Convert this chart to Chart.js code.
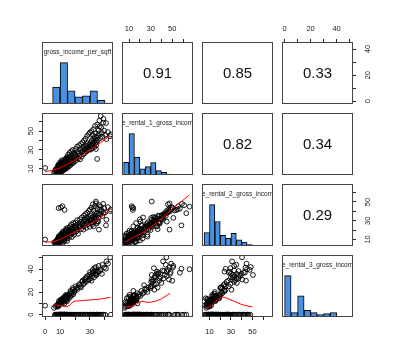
<!DOCTYPE html>
<html>
<head>
<meta charset="utf-8">
<script src="https://cdn.jsdelivr.net/npm/chart.js@4.4.1/dist/chart.umd.min.js"></script>
<style>
  html, body { margin: 0; background: #fff; }
  #wrap { position: relative; width: 396px; height: 360px; overflow: hidden; }
  #wrap canvas { position: absolute; }
</style>
</head>
<body>
<div id="wrap"></div>
<script>
// variable names as printed on the diagonal (clipped by the panel in the original)
const varNames = ['gross_income_per_sqft', 'e_rental_1_gross_incom', 'e_rental_2_gross_incom', 'e_rental_3_gross_incom'];

const incomePerSqft = [
  6.5, 7.0, 7.5, 8.0, 8.0, 8.5, 8.5, 9.0, 9.0, 9.0, 9.5, 9.5, 9.5, 9.8, 6.0, 7.0, 8.2, 9.7,
  10.0, 10.2, 10.4, 10.5, 10.6, 10.8, 11.0, 11.0, 11.2, 11.4, 11.5, 11.6, 11.8, 12.0, 12.0, 12.2, 12.4, 12.5, 12.6, 12.8, 13.0, 13.0,
  13.2, 13.4, 13.5, 13.6, 13.8, 14.0, 14.0, 14.2, 14.4, 14.5, 14.6, 14.8, 14.9, 10.3, 12.3, 13.7, 10.5, 11.5, 9.0, 13.0, 11.3,
  15.2, 15.5, 15.8, 16.0, 16.3, 16.6, 17.0, 17.2, 17.5, 17.8, 18.2, 18.5, 18.8, 19.3, 19.7,
  20.5, 21.0, 21.8, 22.5, 23.0, 23.6, 24.2, 24.8, 25.3, 25.8, 26.3, 26.8, 27.3, 27.8, 28.4, 29.0, 29.6,
  30.2, 30.5, 30.8, 31.2, 31.5, 31.8, 32.2, 32.5, 32.8, 33.2, 33.5, 33.8, 34.2, 34.5, 34.8,
  35.5, 36.5, 37.2, 38.0, 39.0, 40.7, 41.0, 43.5, 0.0, 36.0, 34.0,
  8.5, 9.2, 9.8, 10.1, 10.7, 11.1, 11.7, 12.1, 12.7, 13.1, 13.9, 14.3, 14.7, 10.9, 12.9, 11.9, 9.3, 13.3, 14.1, 12.6,
  15.4, 15.9, 16.4, 16.9, 17.4, 17.9, 18.4, 18.9, 19.4, 19.9,
  20.3, 20.9, 21.4, 22.0, 22.8, 23.3, 24.0, 24.5, 25.0, 25.6, 26.0, 26.6, 27.0, 27.6, 28.1, 28.7, 29.3, 29.8,
  30.0, 30.6, 31.0, 31.4, 31.9, 32.4, 32.9, 33.4, 33.9, 34.4, 34.9,
  35.2, 35.8, 36.3, 36.8, 37.5, 38.3, 38.8, 39.5, 40.2, 42.0, 44.0,
  7.8, 8.8, 10.0, 11.0, 12.0, 13.0, 14.0, 14.8
];
const rental1 = [
  7.0, 8.5, 6.5, 9.0, 7.5, 10.5, 8.0, 9.5, 11.5, 7.0, 10.0, 12.5, 8.5, 11.0, 5.8, 9.5, 6.2, 9.2,
  11.0, 12.5, 9.5, 13.5, 11.5, 10.5, 14.0, 12.0, 10.0, 13.0, 15.0, 11.8, 12.8, 14.5, 10.8, 13.8, 16.0, 12.2, 14.8, 11.5, 15.5, 13.2,
  17.0, 12.8, 14.5, 16.5, 13.8, 15.8, 18.0, 14.2, 16.8, 13.0, 17.5, 15.2, 19.0, 8.5, 9.0, 20.5, 13.0, 12.5, 14.0, 13.5, 16.5,
  17.0, 21.0, 14.5, 19.0, 22.5, 16.0, 18.5, 24.0, 20.0, 17.5, 22.0, 26.0, 19.5, 23.5, 21.5,
  25.0, 22.0, 28.0, 26.5, 24.0, 30.0, 27.5, 32.0, 29.0, 33.0, 31.0, 35.0, 30.5, 34.0, 37.0, 32.5, 36.0,
  33.5, 38.0, 35.5, 40.0, 34.0, 37.5, 42.0, 36.0, 39.0, 44.0, 37.0, 41.0, 35.0, 43.0, 20.5,
  45.0, 55.0, 66.0, 48.0, 63.0, 58.5, 41.5, 44.6, 11.0, 47.5, 31.0,
  13.5, 15.0, 6.5, 17.0, 7.5, 19.0, 8.0, 18.5, 9.5, 20.0, 10.5, 21.5, 11.0, 16.0, 17.8, 14.2, 12.8, 11.2, 19.8, 15.6,
  25.0, 12.5, 27.0, 14.0, 28.5, 15.5, 30.0, 16.5, 27.0, 18.0,
  31.0, 19.5, 33.5, 21.0, 35.0, 20.0, 36.5, 23.0, 38.0, 25.5, 40.0, 27.0, 42.0, 28.5, 45.0, 29.5, 47.0, 31.0,
  48.5, 30.5, 50.0, 32.0, 46.0, 52.0, 33.0, 55.5, 47.5, 38.5, 57.0,
  40.5, 51.0, 61.0, 42.5, 53.5, 44.0, 59.0, 50.5, 46.0, 49.0, 46.5,
  10.8, 6.8, 15.5, 7.0, 16.8, 9.2, 12.2, 22.5
];
const rental2 = [
  6.5, 7.5, 8.0, 6.0, 9.0, 8.5, 7.0, 10.0, 9.5, 8.0, 11.0, 7.5, 10.5, 9.0, 7.0, 5.5, 8.8, 12.0,
  10.5, 12.0, 11.5, 9.5, 13.0, 8.5, 12.5, 11.0, 14.0, 10.0, 13.5, 12.2, 9.8, 14.5, 11.8, 12.8, 15.0, 10.8, 13.2, 15.5, 12.0, 14.2,
  16.0, 11.5, 15.8, 13.8, 17.0, 14.8, 12.8, 16.5, 15.2, 13.5, 18.0, 14.0, 16.8, 9.0, 10.2, 19.0, 44.0, 45.5, 43.5, 41.5, 10.5,
  15.5, 18.5, 16.0, 20.0, 14.5, 17.5, 19.5, 21.0, 16.5, 22.0, 18.0, 23.5, 20.5, 17.5, 24.5,
  22.0, 25.5, 20.5, 27.0, 23.0, 25.0, 28.5, 26.0, 24.0, 29.5, 31.0, 27.0, 33.0, 30.0, 28.5, 34.0, 32.0,
  30.0, 35.0, 30.0, 31.5, 33.5, 28.0, 34.5, 24.0, 32.0, 38.0, 35.5, 33.0, 33.0, 37.5, 29.0,
  29.0, 42.0, 45.0, 40.0, 38.0, 25.0, 31.0, 40.3, 10.0, 20.5, 50.5,
  11.0, 13.5, 14.0, 8.0, 16.0, 15.5, 6.5, 18.5, 17.0, 9.0, 19.5, 20.5, 8.5, 14.8, 11.2, 17.8, 13.2, 12.5, 21.5, 7.8,
  22.5, 19.0, 13.0, 24.0, 26.0, 12.5, 20.0, 27.5, 15.0, 22.5,
  28.0, 18.5, 30.5, 16.0, 24.0, 31.5, 21.0, 33.5, 27.5, 20.5, 35.5, 25.0, 37.0, 22.5, 38.5, 26.5, 40.5, 23.5,
  42.0, 27.5, 44.0, 25.5, 47.5, 41.0, 29.5, 45.5, 48.5, 27.0, 43.0,
  36.0, 33.0, 46.5, 37.0, 41.5, 35.0, 48.0, 43.5, 39.0, 44.5, 42.0,
  9.2, 11.5, 7.0, 12.8, 16.2, 13.8, 18.8, 11.0
];
const rental3 = [
  0, 7.5, 0, 8.5, 0, 9.0, 0, 7.5, 0, 10.0, 0, 9.5, 0, 11.0, 6.0, 0, 7.0, 0,
  0, 11.0, 0, 12.0, 0, 10.5, 0, 13.0, 0, 11.5, 0, 12.5, 0, 14.0, 0, 11.0, 0, 13.5, 0, 12.0, 0, 14.5,
  0, 13.0, 0, 15.0, 0, 12.5, 0, 16.0, 0, 14.0, 0, 17.0, 0, 9.5, 0, 16.5, 0, 0, 0, 0, 0,
  15.5, 0, 17.0, 0, 18.5, 0, 16.0, 20.0, 0, 19.0, 0, 22.0, 18.0, 0, 21.0,
  23.0, 0, 24.0, 0, 26.0, 25.0, 0, 29.0, 0, 27.0, 31.0, 0, 29.0, 33.0, 0, 30.5, 35.0,
  0, 32.0, 36.0, 0, 34.0, 37.0, 0, 38.0, 33.0, 0, 36.0, 39.0, 0, 35.0, 0,
  38.0, 0, 40.0, 36.0, 0, 40.5, 47.0, 50.5, 8.0, 0, 35.0,
  0, 12.0, 0, 13.0, 0, 0, 14.5, 0, 15.5, 0, 17.5, 0, 12.0, 0, 10.0, 0, 0, 16.0, 0, 14.0,
  0, 14.5, 0, 21.0, 0, 17.5, 23.5, 0, 20.0, 0,
  25.0, 0, 22.0, 0, 27.0, 0, 24.0, 0, 30.0, 0, 28.0, 0, 32.0, 0, 34.0, 0, 31.0, 0,
  37.5, 0, 30.0, 0, 39.5, 0, 41.0, 0, 42.0, 0, 37.0,
  0, 43.0, 0, 38.5, 0, 44.0, 0, 41.5, 0, 45.0, 0,
  0, 8.0, 0, 11.5, 13.0, 0, 15.0, 0
];

// histogram bins (mid points) and bar heights
const hist1Mids = [2.5, 7.5, 12.5, 17.5, 22.5, 27.5, 32.5, 37.5, 42.5];
const hist1Heights = [1, 50, 122, 39, 21, 24, 39, 11, 3];
const hist2Mids = [7.5, 12.5, 17.5, 22.5, 27.5, 32.5, 37.5, 42.5, 47.5, 52.5, 57.5, 62.5, 67.5];
const hist2Heights = [38, 123, 53, 18, 25, 37, 13, 8, 3, 1, 1, 0.5, 0.5];
const hist3Mids = [7.5, 12.5, 17.5, 22.5, 27.5, 32.5, 37.5, 42.5, 47.5, 52.5, 57.5, 62.5, 67.5];
const hist3Heights = [40, 123, 73, 32, 23, 38, 18, 12, 4, 1, 0.6, 0.5, 0.5];
const hist4Mids = [2.5, 7.5, 12.5, 17.5, 22.5, 27.5, 32.5, 37.5, 42.5, 47.5];
const hist4Heights = [123, 13, 63, 20, 13, 7, 10, 13, 2, 2];

// red smoothers in the lower panels, [x, y]
const smooth21 = [[0, 7], [5, 8.5], [10, 11], [15, 15], [20, 19.5], [25, 24.5], [30, 30], [35, 35.5], [40, 41], [43.5, 45]];
const smooth31 = [[0, 7], [5, 7.5], [10, 10], [15, 14], [20, 18], [25, 22], [30, 26.5], [35, 31], [40, 37], [43.5, 43]];
const smooth32 = [[6, 7], [10, 9.5], [15, 13], [20, 15.5], [25, 19], [30, 23], [35, 27.5], [40, 32], [45, 37], [50, 43], [55, 47.5], [60, 52], [66, 57.5]];
const smooth41 = [[6, 8.8], [10, 8], [12, 7.5], [14, 7], [16, 8], [18, 10.5], [20, 12], [25, 12.5], [30, 13], [35, 13.5], [40, 14.5], [43.5, 15.3]];
const smooth42 = [[6, 6.5], [10, 7], [14, 7.5], [18, 10], [22, 12], [26, 11], [30, 11], [35, 12], [40, 14], [45, 17], [48, 19]];
const smooth43 = [[7, 6], [10, 7], [13, 9], [16, 12], [19, 14.5], [22, 15.5], [25, 15], [30, 13], [35, 11], [40, 9], [45, 7.8], [50, 7]];

// correlations in the upper panels
const corrPairs = [[0, 1], [0, 2], [0, 3], [1, 2], [1, 3], [2, 3]];
const corrValues = [0.91, 0.85, 0.33, 0.82, 0.34, 0.29];

// axis ranges and ticks per variable
const varRanges = [[-2.1, 45.4], [3.5, 69.2], [3.0, 69.2], [-2.0, 52.6]];
const axisTicks = [[0, 10, 20, 30, 40], [10, 20, 30, 40, 50, 60], [10, 20, 30, 40, 50, 60], [0, 10, 20, 30, 40, 50]];
const xTickLabels = [[0, 10, 30], [10, 30, 50], [10, 30, 50], [0, 20, 40]];
const yTickLabels = [[0, 20, 40], [10, 30, 50], [10, 30, 50], [0, 20, 40]];

const columns = [incomePerSqft, rental1, rental2, rental3];
const histMids = [hist1Mids, hist2Mids, hist3Mids, hist4Mids];
const histHeights = [hist1Heights, hist2Heights, hist3Heights, hist4Heights];
const smoothers = { '1,0': smooth21, '2,0': smooth31, '2,1': smooth32, '3,0': smooth41, '3,1': smooth42, '3,2': smooth43 };

const FONT = '"Liberation Sans", Arial, Helvetica, sans-serif';
const M = 30, AX = 28, PW = 71, PH = 62;
const colX = [42, 122, 202, 282];
const rowY = [42, 113, 184, 255];

// box round each panel + diagonal names + correlation numbers
const panelPlugin = {
  id: 'panel',
  afterDraw(chart, args, opts) {
    const { ctx, chartArea: a } = chart;
    ctx.save();
    if (opts.label) {
      ctx.save();
      ctx.beginPath();
      ctx.rect(a.left, a.top, a.width, a.height);
      ctx.clip();
      ctx.font = '6.5px ' + FONT;
      ctx.fillStyle = '#222';
      ctx.textAlign = 'center';
      ctx.textBaseline = 'middle';
      ctx.fillText(opts.label, (a.left + a.right) / 2, a.top + 10.5);
      ctx.restore();
    }
    if (opts.corr) {
      ctx.font = '15px ' + FONT;
      ctx.fillStyle = '#111';
      ctx.textAlign = 'center';
      ctx.textBaseline = 'middle';
      ctx.fillText(opts.corr, (a.left + a.right) / 2, (a.top + a.bottom) / 2 + 1);
    }
    ctx.strokeStyle = '#444';
    ctx.lineWidth = 1;
    ctx.strokeRect(a.left + 0.5, a.top + 0.5, a.width - 1, a.height - 1);
    ctx.restore();
  }
};

function scaleCfg(horiz, pos, v, show, pad) {
  const labels = horiz ? xTickLabels[v] : yTickLabels[v];
  return {
    type: 'linear',
    position: pos,
    min: varRanges[v][0],
    max: varRanges[v][1],
    offset: false,
    display: show,
    afterBuildTicks: s => { s.ticks = axisTicks[v].map(t => ({ value: t })); },
    afterFit: s => { if (horiz) s.height = show ? AX : 0; else s.width = show ? AX : 0; },
    grid: { display: true, drawOnChartArea: false, drawTicks: true, tickLength: 3, color: '#222', lineWidth: 1 },
    border: { display: false },
    ticks: {
      autoSkip: false,
      padding: pad,
      minRotation: horiz ? 0 : 90,
      maxRotation: horiz ? 0 : 90,
      crossAlign: horiz ? 'near' : 'center',
      font: { family: FONT, size: 7.5 },
      color: '#1a1a1a',
      callback: t => labels.includes(t) ? String(t) : ''
    }
  };
}

function makePanel(r, c) {
  const cv = document.createElement('canvas');
  cv.width = PW + 2 * M;
  cv.height = PH + 2 * M;
  cv.style.left = (colX[c] - M) + 'px';
  cv.style.top = (rowY[r] - M) + 'px';
  document.getElementById('wrap').appendChild(cv);

  const topX = r === 0 && c % 2 === 1;
  const bottomX = r === 3 && c % 2 === 0;
  const leftY = c === 0 && r % 2 === 1;
  const rightY = c === 3 && r % 2 === 0;

  const xScale = scaleCfg(true, r === 0 ? 'top' : 'bottom', c, topX || bottomX, topX ? 5.5 : 7.5);
  let yScale, datasets, type = 'scatter';
  const panelOpts = {};

  if (r === c) {
    type = 'bar';
    yScale = { type: 'linear', display: false, min: 0, max: 1.5 * Math.max(...histHeights[c]) };
    datasets = [{
      data: histMids[c].map((m, i) => ({ x: m, y: histHeights[c][i] })),
      backgroundColor: '#4a90e0',
      borderColor: '#000',
      borderWidth: 1,
      borderSkipped: false,
      barPercentage: 1,
      categoryPercentage: 1,
      clip: 0
    }];
    panelOpts.label = varNames[c];
  } else {
    yScale = scaleCfg(false, c === 0 ? 'left' : 'right', r, leftY || rightY, leftY ? 4 : 8);
    if (r < c) {
      datasets = [];
      const k = corrPairs.findIndex(p => p[0] === r && p[1] === c);
      panelOpts.corr = corrValues[k].toFixed(2);
    } else {
      const pts = columns[c].map((x, i) => ({ x: x, y: columns[r][i] }));
      datasets = [
        {
          data: smoothers[r + ',' + c].map(p => ({ x: p[0], y: p[1] })),
          showLine: true, pointRadius: 0, borderColor: '#ff0000', borderWidth: 1, fill: false, clip: 0
        },
        {
          data: pts, showLine: false, pointStyle: 'circle', pointRadius: 2.4,
          pointBorderWidth: 0.9, pointBorderColor: '#000', pointBackgroundColor: 'rgba(0,0,0,0)',
          borderColor: '#000', backgroundColor: 'rgba(0,0,0,0)', clip: 0
        }
      ];
    }
  }

  new Chart(cv, {
    type: type,
    data: { datasets: datasets },
    options: {
      responsive: false,
      animation: false,
      devicePixelRatio: 1,
      events: [],
      layout: {
        padding: {
          top: topX ? M - AX : M,
          bottom: bottomX ? M - AX : M,
          left: leftY ? M - AX : M,
          right: rightY ? M - AX : M
        }
      },
      scales: { x: xScale, y: yScale },
      plugins: { legend: { display: false }, tooltip: { enabled: false }, panel: panelOpts }
    },
    plugins: [panelPlugin]
  });
}

for (let r = 0; r < 4; r++) {
  for (let c = 0; c < 4; c++) makePanel(r, c);
}
</script>
</body>
</html>
